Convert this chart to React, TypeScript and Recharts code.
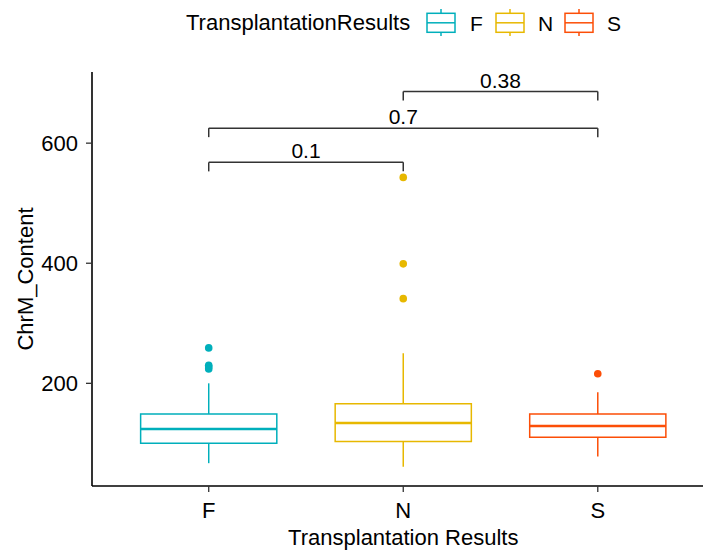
import React from 'react';
import { ComposedChart, XAxis, YAxis, Scatter, ReferenceArea, ReferenceLine, Legend } from 'recharts';

const categories = ['F', 'N', 'S'];
const colors = ['#00AFBB', '#E7B800', '#FC4E07'];

// box statistics per group
const lowerWhisker = [67, 61, 78];
const q1 = [100, 103, 110];
const median = [124, 134, 129];
const q3 = [149, 166, 149];
const upperWhisker = [200, 250, 185];

const outliersF = [259, 230, 227, 224];
const outliersN = [543, 399, 341];
const outliersS = [216];
const outliers = [outliersF, outliersN, outliersS];

// pairwise comparisons
const pairs = [[0, 1], [0, 2], [1, 2]];
const pValues = ['0.1', '0.7', '0.38'];
const bracketY = [568, 625, 686];
const tipLength = 15;

const yTicks = [200, 400, 600];

const FONT = '"Liberation Sans", Arial, sans-serif';
const HALF = 0.35;

const LegendContent = () => {
  const keyX = [427, 496, 565];
  const labelX = [470, 538, 607];
  return (
    <svg width={703} height={45} style={{ fontFamily: FONT, display: 'block' }}>
      <text x={186} y={30} fontSize={22} fill="#000">TransplantationResults</text>
      {categories.map((c, i) => (
        <g key={c}>
          <line x1={keyX[i] + 14} x2={keyX[i] + 14} y1={9} y2={13.3} stroke={colors[i]} strokeWidth={1.5} />
          <line x1={keyX[i] + 14} x2={keyX[i] + 14} y1={32.3} y2={36} stroke={colors[i]} strokeWidth={1.5} />
          <rect x={keyX[i]} y={13.3} width={28} height={19} fill="#fff" stroke={colors[i]} strokeWidth={1.5} />
          <line x1={keyX[i]} x2={keyX[i] + 28} y1={22.8} y2={22.8} stroke={colors[i]} strokeWidth={1.5} />
          <text x={labelX[i]} y={30.7} fontSize={21} fill="#000">{c}</text>
        </g>
      ))}
    </svg>
  );
};

const YLabel = (props: any) => {
  const vb = props.viewBox || { x: 0, y: 72, width: 92, height: 414 };
  const cx = vb.x + 33;
  const cy = vb.y + vb.height / 2;
  return (
    <text x={cx} y={cy} transform={`rotate(-90 ${cx} ${cy})`} textAnchor="middle" fontSize={22} fill="#000" style={{ fontFamily: FONT }}>
      ChrM_Content
    </text>
  );
};

export default function App() {
  const boxes = categories.flatMap((c, i) => {
    const x = i + 1;
    const col = colors[i];
    return [
      <ReferenceLine key={`wl${c}`} segment={[{ x, y: lowerWhisker[i] }, { x, y: q1[i] }]} stroke={col} strokeWidth={1.5} />,
      <ReferenceLine key={`wu${c}`} segment={[{ x, y: q3[i] }, { x, y: upperWhisker[i] }]} stroke={col} strokeWidth={1.5} />,
      <ReferenceArea key={`b${c}`} x1={x - HALF} x2={x + HALF} y1={q1[i]} y2={q3[i]} fill="#fff" fillOpacity={1} stroke={col} strokeWidth={1.5} strokeOpacity={1} />,
      <ReferenceLine key={`m${c}`} segment={[{ x: x - HALF, y: median[i] }, { x: x + HALF, y: median[i] }]} stroke={col} strokeWidth={2.6} />,
    ];
  });

  const brackets = pairs.flatMap(([a, b], i) => {
    const xa = a + 1;
    const xb = b + 1;
    const y = bracketY[i];
    return [
      <ReferenceLine key={`bl${i}`} segment={[{ x: xa, y }, { x: xa, y: y - tipLength }]} stroke="#333" strokeWidth={1.5} />,
      <ReferenceLine key={`br${i}`} segment={[{ x: xb, y }, { x: xb, y: y - tipLength }]} stroke="#333" strokeWidth={1.5} />,
      <ReferenceLine
        key={`bt${i}`}
        segment={[{ x: xa, y }, { x: xb, y }]}
        stroke="#333"
        strokeWidth={1.5}
        label={{ value: pValues[i], position: 'top', offset: 4, fill: '#000', fontSize: 21 }}
      />,
    ];
  });

  return (
    <div style={{ position: 'absolute', left: 0, top: 0, width: 703, height: 550, overflow: 'hidden', background: '#fff' }}>
      <ComposedChart
        width={730}
        height={550}
        margin={{ top: 72, right: 15.5, bottom: 0, left: 0 }}
        style={{ fontFamily: FONT }}
      >
        <XAxis
          type="number"
          dataKey="x"
          domain={[0.4, 3.6]}
          ticks={[1, 2, 3]}
          tickFormatter={(v: number) => categories[v - 1] ?? ''}
          allowDataOverflow
          height={64}
          tickSize={6}
          tickMargin={10}
          tick={{ fill: '#000', fontSize: 22 }}
          axisLine={{ stroke: '#000', strokeWidth: 1.6 }}
          tickLine={{ stroke: '#333', strokeWidth: 1.3 }}
          label={{ value: 'Transplantation Results', position: 'insideBottom', offset: 5, fill: '#000', fontSize: 22 }}
        />
        <YAxis
          type="number"
          dataKey="y"
          domain={[29, 718.5]}
          ticks={yTicks}
          allowDataOverflow
          width={92}
          tickSize={6}
          tickMargin={8}
          tick={{ fill: '#000', fontSize: 22 }}
          axisLine={{ stroke: '#000', strokeWidth: 1.6 }}
          tickLine={{ stroke: '#333', strokeWidth: 1.3 }}
          label={{ content: YLabel }}
        />
        <Legend
          layout="horizontal"
          verticalAlign="middle"
          align="center"
          content={<LegendContent />}
          wrapperStyle={{ top: 0, left: 0, width: 703, height: 45 }}
        />
        {boxes}
        {brackets}
        {outliers.map((vals, i) => (
          <Scatter
            key={categories[i]}
            name={categories[i]}
            data={vals.map((v) => ({ x: i + 1, y: v }))}
            isAnimationActive={false}
            shape={(p: any) => <circle cx={p.cx} cy={p.cy} r={3.8} fill={colors[i]} />}
          />
        ))}
      </ComposedChart>
    </div>
  );
}
